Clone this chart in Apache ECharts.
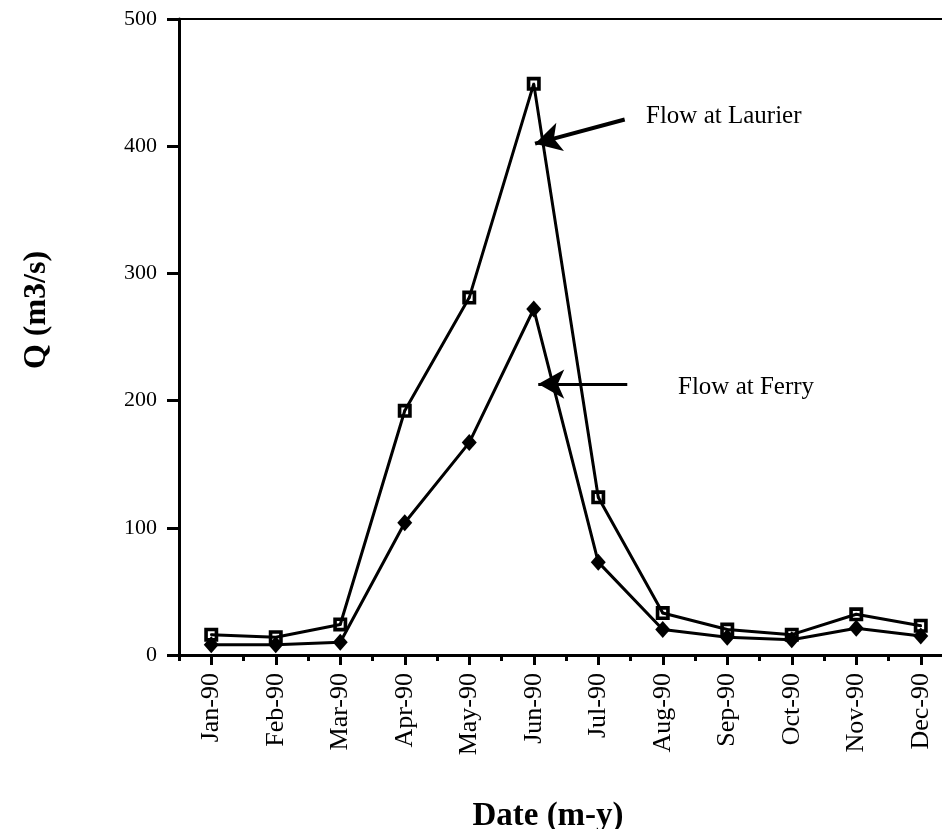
<!DOCTYPE html>
<html>
<head>
<meta charset="utf-8">
<script src="https://cdn.jsdelivr.net/npm/echarts@6/dist/echarts.min.js"></script>
<style>html,body{margin:0;padding:0;background:#fff;}#c{width:942px;height:829px;}</style>
</head>
<body>
<div id="c"></div>
<script>
const categories = ['Jan-90','Feb-90','Mar-90','Apr-90','May-90','Jun-90','Jul-90','Aug-90','Sep-90','Oct-90','Nov-90','Dec-90'];
const laurier = [16, 14, 24, 192, 281, 449, 124, 33, 20, 16, 32, 23];
const ferry   = [8, 8, 10, 104, 167, 272, 73, 20, 14, 12, 21, 15];
const yMin = 0, yMax = 500, yStep = 100;
// annotation arrows in data space [categoryIndex, value]
const laurierArrow = [[6.41, 421], [5.02, 402]];
const ferryArrow   = [[6.45, 213], [5.07, 213]];

const serif = '"Liberation Serif", "DejaVu Serif", serif';
const squareDot = 'path://M0 0H12V12H0Z M3.1 3.1V8.9H8.9V3.1Z M5 5H7V7H5Z';

const chart = echarts.init(document.getElementById('c'), null, {renderer: 'canvas'});
chart.setOption({
  animation: false,
  backgroundColor: '#fff',
  grid: {left: 179, top: 19, width: 774, height: 636, show: true, borderColor: '#000', borderWidth: 2,
         backgroundColor: 'transparent', containLabel: false, outerBoundsMode: 'none'},
  xAxis: [
    {
      type: 'category', data: categories, position: 'bottom', boundaryGap: true,
      axisLine: {show: true, onZero: false, lineStyle: {color: '#000', width: 3}},
      axisTick: {show: true, alignWithLabel: true, length: 10, lineStyle: {color: '#000', width: 3}},
      axisLabel: {rotate: 90, margin: 18, color: '#000', fontFamily: serif, fontSize: 26, interval: 0},
      splitLine: {show: false},
      name: 'Date (m-y)', nameLocation: 'middle', nameGap: 145,
      nameTextStyle: {fontFamily: serif, fontWeight: 'bold', fontSize: 33, color: '#000', padding: [0, 36, 0, 0]}
    },
    {
      type: 'category', data: categories, position: 'bottom', boundaryGap: true,
      axisLine: {show: false, onZero: false},
      axisTick: {show: true, length: 6, lineStyle: {color: '#000', width: 3}},
      axisLabel: {show: false}, splitLine: {show: false}
    },
    {
      type: 'value', min: -0.5, max: 11.5, show: false
    }
  ],
  yAxis: {
    type: 'value', min: yMin, max: yMax, interval: yStep,
    axisLine: {show: true, onZero: false, lineStyle: {color: '#000', width: 3}},
    axisTick: {show: true, length: 12, lineStyle: {color: '#000', width: 3}},
    axisLabel: {margin: 22, color: '#000', fontFamily: serif, fontSize: 22},
    splitLine: {show: false},
    name: 'Q (m3/s)', nameLocation: 'middle', nameGap: 126,
    nameTextStyle: {fontFamily: serif, fontWeight: 'bold', fontSize: 32, color: '#000', padding: [0, 0, 0, 54]}
  },
  series: [
    {
      name: 'Flow at Laurier', type: 'line', xAxisIndex: 0, data: laurier,
      symbol: squareDot, symbolSize: 14, showAllSymbol: true,
      lineStyle: {color: '#000', width: 3}, itemStyle: {color: '#000'}, z: 3
    },
    {
      name: 'Flow at Ferry', type: 'line', xAxisIndex: 0, data: ferry,
      symbol: 'diamond', symbolSize: [15, 17], showAllSymbol: true,
      lineStyle: {color: '#000', width: 3}, itemStyle: {color: '#000'}, z: 2
    },
    {
      type: 'line', xAxisIndex: 2, data: [], silent: true,
      markLine: {
        silent: true, animation: false,
        symbol: ['none', 'arrow'], symbolSize: [22, 26],
        label: {show: false},
        lineStyle: {color: '#000', width: 4, type: 'solid'},
        data: [
          [{coord: laurierArrow[0]}, {coord: laurierArrow[1]}],
          [{coord: ferryArrow[0], lineStyle: {width: 3}}, {coord: ferryArrow[1]}]
        ]
      }
    }
  ],
  graphic: [
    {type: 'text', left: 646, top: 104, style: {text: 'Flow at Laurier', font: '25px ' + serif, fill: '#000'}},
    {type: 'text', left: 678, top: 375, style: {text: 'Flow at Ferry', font: '25px ' + serif, fill: '#000'}}
  ]
});
</script>
</body>
</html>
